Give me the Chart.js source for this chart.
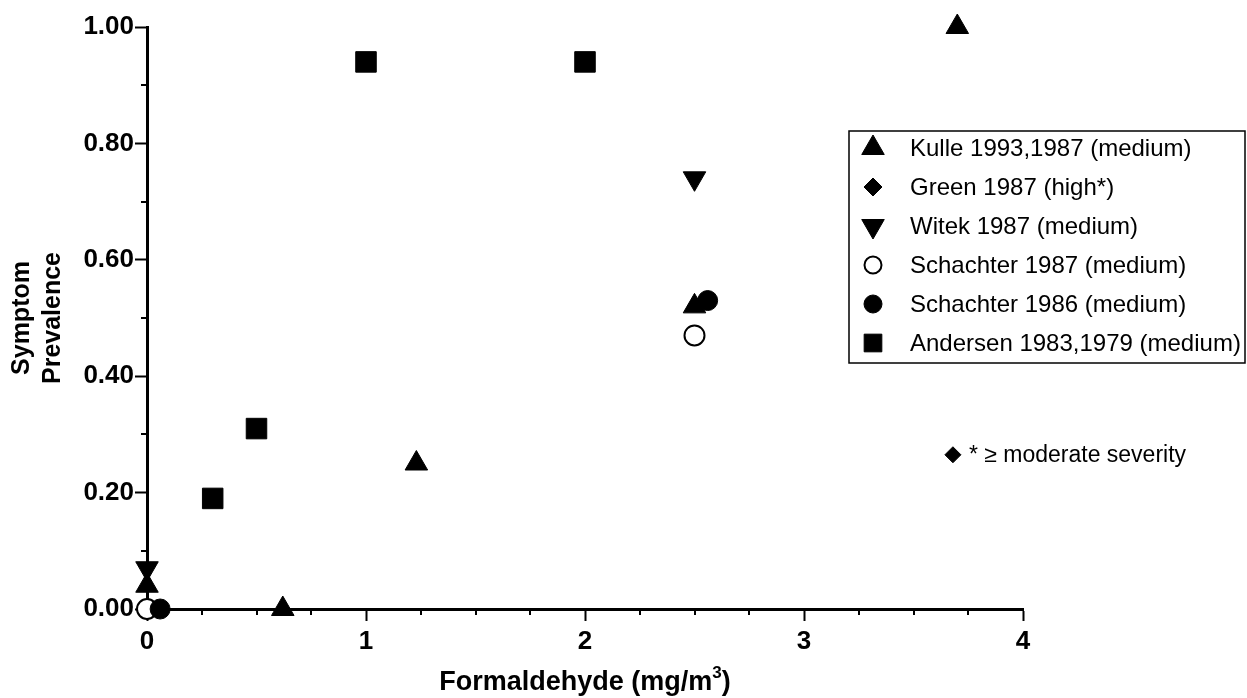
<!DOCTYPE html>
<html>
<head>
<meta charset="utf-8">
<script src="https://cdn.jsdelivr.net/npm/chart.js@4/dist/chart.umd.min.js"></script>
<style>
  html, body { margin: 0; padding: 0; background: #fff; }
  #wrap { width: 1247px; height: 698px; }
</style>
</head>
<body>
<div id="wrap"><canvas id="chart"></canvas></div>
<script>
// formaldehyde concentration (mg/m3) vs symptom prevalence, one list per study
const kulleX = [0, 0.62, 1.23, 2.5, 3.7];
const kulleY = [0.04, 0, 0.25, 0.52, 1.0];
const greenX = [];
const greenY = [];
const witekX = [0, 2.5];
const witekY = [0.07, 0.74];
const schachter87X = [0, 2.5];
const schachter87Y = [0, 0.47];
const schachter86X = [0.06, 2.56];
const schachter86Y = [0, 0.53];
const andersenX = [0.3, 0.5, 1, 2];
const andersenY = [0.19, 0.31, 0.94, 0.94];

const labels = [
    'Kulle 1993,1987 (medium)',
    'Green 1987 (high*)',
    'Witek 1987 (medium)',
    'Schachter 1987 (medium)',
    'Schachter 1986 (medium)',
    'Andersen 1983,1979 (medium)'
];
const footnote = '* \u2265 moderate severity';

const xTicks = [0, 1, 2, 3, 4];
const yTicks = [0, 0.2, 0.4, 0.6, 0.8, 1.0];

function pts(xs, ys) {
    return xs.map((x, i) => ({x: x, y: ys[i]}));
}

const FONT = '"Liberation Sans", Arial, sans-serif';

// short ticks between the labelled ones, x title, legend box and footnote
const extras = {
    id: 'extras',
    afterDraw(chart) {
        const ctx = chart.ctx;
        const xs = chart.scales.x, ys = chart.scales.y;
        const area = chart.chartArea;
        ctx.save();
        ctx.strokeStyle = '#000';
        ctx.lineWidth = 2;
        for (let v = 0.25; v < 4; v += 0.25) {
            if (Math.abs(v - Math.round(v)) < 1e-6) continue;
            const px = Math.round(xs.getPixelForValue(v));
            ctx.beginPath();
            ctx.moveTo(px, area.bottom);
            ctx.lineTo(px, area.bottom + 6);
            ctx.stroke();
        }
        for (let v = 0.1; v < 1; v += 0.2) {
            const py = Math.round(ys.getPixelForValue(v));
            ctx.beginPath();
            ctx.moveTo(area.left, py);
            ctx.lineTo(area.left - 6, py);
            ctx.stroke();
        }

        // x axis title
        ctx.fillStyle = '#000';
        ctx.textBaseline = 'alphabetic';
        const main = 'Formaldehyde (mg/m';
        ctx.font = 'bold 27px ' + FONT;
        const w1 = ctx.measureText(main).width;
        ctx.font = 'bold 17px ' + FONT;
        const w2 = ctx.measureText('3').width;
        ctx.font = 'bold 27px ' + FONT;
        const w3 = ctx.measureText(')').width;
        let tx = (area.left + area.right) / 2 - (w1 + w2 + w3) / 2;
        const ty = 690;
        ctx.textAlign = 'left';
        ctx.fillText(main, tx, ty);
        ctx.font = 'bold 17px ' + FONT;
        ctx.fillText('3', tx + w1, ty - 12);
        ctx.font = 'bold 27px ' + FONT;
        ctx.fillText(')', tx + w1 + w2, ty);

        // legend box
        const bx = 849, by = 131, bw = 396, bh = 232;
        ctx.lineWidth = 1.5;
        ctx.strokeRect(bx, by, bw, bh);
        ctx.font = '24px ' + FONT;
        ctx.textBaseline = 'middle';
        chart.data.datasets.forEach((ds, i) => {
            const cy = by + 17 + i * 39;
            ctx.fillStyle = ds.pointBackgroundColor;
            ctx.strokeStyle = '#000';
            ctx.lineWidth = ds.pointBorderWidth;
            Chart.helpers.drawPoint(ctx, {
                pointStyle: ds.pointStyle,
                rotation: ds.pointRotation || 0,
                radius: ds.legendRadius,
                borderWidth: ds.pointBorderWidth
            }, bx + 24, cy);
            ctx.fillStyle = '#000';
            ctx.fillText(labels[i], bx + 61, cy + 1);
        });

        // footnote for the Green marker
        const fx = area.left + (area.right - area.left) * 0.92;
        const fy = ys.getPixelForValue(0.265);
        ctx.fillStyle = '#000';
        Chart.helpers.drawPoint(ctx, {pointStyle: 'rectRot', radius: 8, borderWidth: 1}, fx, fy);
        ctx.font = '23px ' + FONT;
        ctx.fillText(footnote, fx + 16, fy + 1);
        ctx.restore();
    }
};

function series(label, xs, ys, style, radius, legendRadius, extra) {
    return Object.assign({
        label: label,
        data: pts(xs, ys),
        pointStyle: style,
        pointRadius: radius,
        pointHoverRadius: radius,
        legendRadius: legendRadius,
        pointBackgroundColor: '#000',
        pointBorderColor: '#000',
        pointBorderWidth: 1,
        showLine: false,
        clip: false
    }, extra || {});
}

new Chart(document.getElementById('chart'), {
    type: 'scatter',
    data: {
        datasets: [
            series(labels[0], kulleX, kulleY, 'triangle', 13, 13),
            series(labels[1], greenX, greenY, 'rectRot', 10, 9),
            series(labels[2], witekX, witekY, 'triangle', 13, 13, {pointRotation: 180}),
            series(labels[3], schachter87X, schachter87Y, 'circle', 10, 8.5,
                {pointBackgroundColor: '#fff', pointBorderWidth: 2, order: 2}),
            series(labels[4], schachter86X, schachter86Y, 'circle', 10, 9),
            series(labels[5], andersenX, andersenY, 'rect', 14.5, 12.5)
        ]
    },
    options: {
        responsive: true,
        maintainAspectRatio: false,
        animation: false,
        layout: {padding: {top: 27, right: 224, left: 0, bottom: 0}},
        plugins: {
            legend: {display: false},
            tooltip: {enabled: false}
        },
        scales: {
            x: {
                type: 'linear',
                min: 0,
                max: 4,
                afterBuildTicks: (s) => { s.ticks = xTicks.map(v => ({value: v})); },
                afterFit: (s) => { s.height = 89; },
                ticks: {
                    color: '#000',
                    padding: 5,
                    font: {family: FONT, size: 26, weight: 'bold'},
                    callback: (v) => String(v)
                },
                grid: {
                    drawOnChartArea: false,
                    drawTicks: true,
                    tickLength: 12,
                    tickWidth: 2,
                    tickColor: '#000'
                },
                border: {display: true, color: '#000', width: 3}
            },
            y: {
                type: 'linear',
                min: 0,
                max: 1,
                afterBuildTicks: (s) => { s.ticks = yTicks.map(v => ({value: v})); },
                afterFit: (s) => { s.width = 147; },
                ticks: {
                    color: '#000',
                    padding: 1,
                    font: {family: FONT, size: 26, weight: 'bold'},
                    callback: (v) => Number(v).toFixed(2)
                },
                grid: {
                    drawOnChartArea: false,
                    drawTicks: true,
                    tickLength: 12,
                    tickWidth: 2,
                    tickColor: '#000'
                },
                border: {display: true, color: '#000', width: 3},
                title: {
                    display: true,
                    text: ['Symptom', 'Prevalence'],
                    color: '#000',
                    font: {family: FONT, size: 25, weight: 'bold', lineHeight: 1.25},
                    padding: {top: 6, bottom: 0}
                }
            }
        }
    },
    plugins: [extras]
});
</script>
</body>
</html>
